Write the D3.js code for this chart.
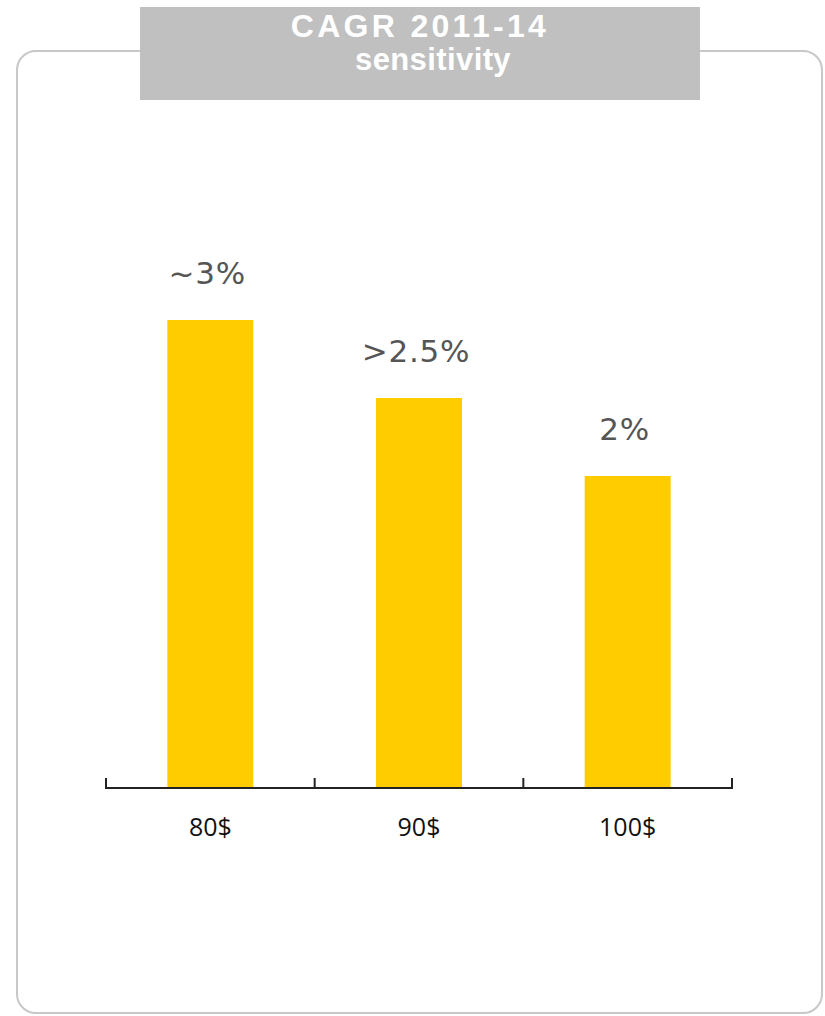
<!DOCTYPE html>
<html>
<head>
<meta charset="utf-8">
<script src="https://cdn.jsdelivr.net/npm/d3@7"></script>
<style>
  body { margin: 0; background: #fff; }
</style>
</head>
<body>
<div id="chart"></div>
<script>
// Data
const categories = ['80$', '90$', '100$']
const values = [3, 2.5, 2]
const valueLabels = ['~3%', '>2.5%', '2%']
const titleLines = ['CAGR 2011-14', 'sensitivity']

// Dimensions
let dimensions = {
  width: 825,
  height: 1016,
}

const axisY = 788

const svg = d3.select('#chart')
  .append('svg')
  .attr('width', dimensions.width)
  .attr('height', dimensions.height)

// frame
svg.append('rect')
  .attr('x', 17)
  .attr('y', 51)
  .attr('width', 805)
  .attr('height', 962)
  .attr('rx', 19)
  .attr('fill', 'none')
  .attr('stroke', '#c8c8c8')
  .attr('stroke-width', 2)

// title box
svg.append('rect')
  .attr('x', 140)
  .attr('y', 7)
  .attr('width', 560)
  .attr('height', 93)
  .attr('fill', '#c0c0c0')

const title = svg.append('g')
  .attr('fill', '#fff')
  .attr('font-family', 'Liberation Sans, Arial, sans-serif')
  .attr('font-weight', 'bold')
  .attr('text-anchor', 'middle')

title.append('text')
  .attr('x', 420)
  .attr('y', 37)
  .attr('font-size', 32)
  .attr('letter-spacing', 3.3)
  .text(titleLines[0])

title.append('text')
  .attr('x', 433)
  .attr('y', 70)
  .attr('font-size', 31)
  .attr('letter-spacing', 0.4)
  .text(titleLines[1])

// scales
const x = d3.scaleBand()
  .domain(categories)
  .range([106, 732])

const y = d3.scaleLinear()
  .domain([0, 3])
  .range([axisY, 320])

const barWidth = 86

svg.append('g')
  .attr('fill', '#ffcc00')
  .selectAll('rect')
  .data(values)
  .join('rect')
  .attr('x', (d, i) => x(categories[i]) + x.bandwidth() / 2 - barWidth / 2)
  .attr('y', d => y(d))
  .attr('width', barWidth)
  .attr('height', d => y(0) - y(d))

// value labels
svg.append('g')
  .selectAll('text')
  .data(values)
  .join('text')
  .attr('x', (d, i) => x(categories[i]) + x.bandwidth() / 2 - 3)
  .attr('y', d => y(d) - 36)
  .attr('text-anchor', 'middle')
  .attr('fill', '#555')
  .attr('font-family', 'DejaVu Sans, sans-serif')
  .attr('font-size', 31)
  .attr('letter-spacing', 0.8)
  .text((d, i) => valueLabels[i])

// axis: baseline with ticks on the band edges
const edges = categories.map(c => x(c)).concat([x.range()[1]])
const axis = svg.append('g').attr('stroke', '#222')

axis.append('line')
  .attr('x1', x.range()[0])
  .attr('x2', x.range()[1])
  .attr('y1', axisY)
  .attr('y2', axisY)
  .attr('stroke-width', 2)

axis.selectAll('.tick')
  .data(edges)
  .join('line')
  .attr('class', 'tick')
  .attr('x1', d => d)
  .attr('x2', d => d)
  .attr('y1', axisY + 1)
  .attr('y2', axisY - 10)
  .attr('stroke-width', 2)

svg.append('g')
  .selectAll('text')
  .data(categories)
  .join('text')
  .attr('x', d => x(d) + x.bandwidth() / 2)
  .attr('y', 836)
  .attr('text-anchor', 'middle')
  .attr('fill', '#111')
  .attr('font-family', 'Open Sans, sans-serif')
  .attr('font-size', 25)
  .text(d => d)
</script>
</body>
</html>
